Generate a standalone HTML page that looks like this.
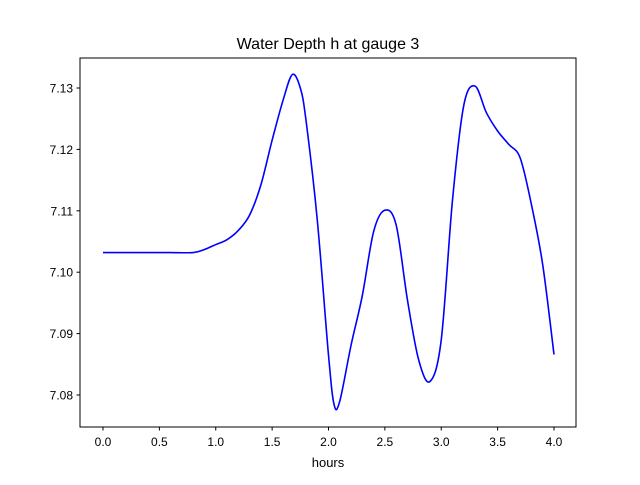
<!DOCTYPE html>
<html><head><meta charset="utf-8"><style>
body{margin:0;background:#fff;font-family:"Liberation Sans","DejaVu Sans",sans-serif;}
</style></head><body>
<svg width="640" height="480" xmlns="http://www.w3.org/2000/svg">
<rect width="640" height="480" fill="#fff"/>
<text x="328" y="49" text-anchor="middle" font-size="16">Water Depth h at gauge 3</text>
<g id="plot"></g>
<rect x="80" y="58" width="496" height="369" fill="none" stroke="#000" stroke-width="1"/>
<text x="328" y="467" text-anchor="middle" font-size="13">hours</text>
</svg>
<script>
const times=[0,0.2,0.4,0.6,0.8,0.9,1.0,1.1,1.2,1.3,1.4,1.5,1.6,1.68,1.75,1.8,1.9,2.0,2.05,2.1,2.2,2.3,2.4,2.5,2.6,2.7,2.8,2.9,3.0,3.1,3.2,3.3,3.4,3.5,3.6,3.7,3.8,3.9,4.0];
const depth=[7.1032,7.1032,7.1032,7.1032,7.1032,7.1037,7.1045,7.1053,7.1068,7.1093,7.1142,7.1215,7.1282,7.1322,7.1300,7.1248,7.1086,7.0865,7.0784,7.079,7.0881,7.0962,7.1066,7.1101,7.1077,7.0955,7.0857,7.0822,7.089,7.1118,7.1272,7.1303,7.126,7.123,7.1208,7.1186,7.111,7.1012,7.0866];
const xTicks=[0,0.5,1,1.5,2,2.5,3,3.5,4];
const xTickLabels=["0.0","0.5","1.0","1.5","2.0","2.5","3.0","3.5","4.0"];
const yTicks=[7.08,7.09,7.10,7.11,7.12,7.13];
const yTickLabels=["7.08","7.09","7.10","7.11","7.12","7.13"];
const X=t=>103+t*112.75;
const Y=v=>395-(v-7.08)*6140;
const ns="http://www.w3.org/2000/svg";
const g=document.getElementById('plot');
function mk(tag,attrs){const e=document.createElementNS(ns,tag);for(const k in attrs)e.setAttribute(k,attrs[k]);g.appendChild(e);return e;}
xTicks.forEach((t,i)=>{
  const l=mk('line',{x1:X(t),x2:X(t),y1:427,y2:430.5,stroke:'#000'});
  
  
  const tx=mk('text',{x:X(t),y:446,'text-anchor':'middle','font-size':'12'});
  tx.textContent=xTickLabels[i];
  
  
});
yTicks.forEach((v,i)=>{
  const l=mk('line',{x1:76.5,x2:80,y1:Y(v),y2:Y(v),stroke:'#000'});
  
  
  const tx=mk('text',{x:73,y:Y(v)+4.5,'text-anchor':'end','font-size':'12'});
  tx.textContent=yTickLabels[i];
  
  
});
const pts=times.map((t,i)=>[X(t),Y(depth[i])]);
let d='M'+pts[0][0]+','+pts[0][1];
for(let i=0;i<pts.length-1;i++){
  const p0=pts[Math.max(0,i-1)],p1=pts[i],p2=pts[i+1],p3=pts[Math.min(pts.length-1,i+2)];
  const c1=[p1[0]+(p2[0]-p0[0])/6,p1[1]+(p2[1]-p0[1])/6];
  const c2=[p2[0]-(p3[0]-p1[0])/6,p2[1]-(p3[1]-p1[1])/6];
  d+=` C${c1[0]},${c1[1]} ${c2[0]},${c2[1]} ${p2[0]},${p2[1]}`;
}
const path=mk('path',{d:d,fill:'none',stroke:'#0000ff','stroke-width':'1.6'});


</script>
</body></html>
